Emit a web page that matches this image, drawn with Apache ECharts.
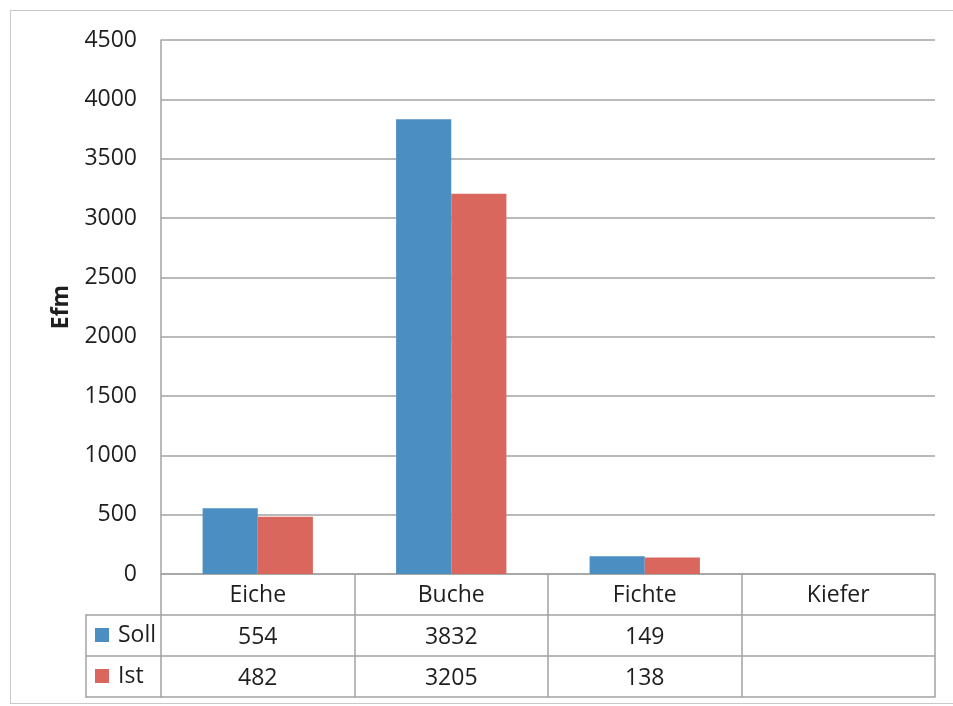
<!DOCTYPE html>
<html>
<head>
<meta charset="utf-8">
<script src="https://cdn.jsdelivr.net/npm/echarts@6/dist/echarts.min.js"></script>
<style>
  html, body { margin: 0; padding: 0; background: #fff; }
  #chart { position: absolute; left: 0; top: 0; width: 953px; height: 706px; }
  #frame { position: absolute; left: 10px; top: 10px; width: 960px; height: 692px;
           border: 1.5px solid #c9c9c9; pointer-events: none; }
</style>
</head>
<body>
<div id="chart"></div>
<div id="frame"></div>
<script>
// Baumarten und Einschlagsmengen (Efm)
const categories = ['Eiche', 'Buche', 'Fichte', 'Kiefer'];
const sollValues = [554, 3832, 149, null];
const istValues = [482, 3205, 138, null];
const seriesNames = ['Soll', 'Ist'];
const yTicks = { min: 0, max: 4500, interval: 500 };

const FONT = "'Open Sans', 'Noto Sans', sans-serif";
const FS = 23;
const TEXT = '#1e1e1e';
const LINE = '#a3a3a3';
const BLUE = '#4b8ec2';
const RED = '#d9675d';

const ROW = 41; // Zeilenhöhe der Datentabelle

const fmt = v => (v === null || v === undefined) ? '' : String(v);

// Leere Achse, die nur als Tabellenlinie dient
function tableLine(extra) {
  return Object.assign({
    type: 'category',
    data: categories,
    gridIndex: 0,
    position: 'bottom',
    axisLine: { show: true, onZero: false, lineStyle: { color: LINE, width: 1.5 } },
    axisTick: { show: false },
    axisLabel: { show: false },
    splitLine: { show: false }
  }, extra);
}

// Wertezeile der Tabelle auf eigener Kategorieachse
function valueRow(values, offset) {
  return tableLine({
    offset: offset,
    axisLabel: {
      show: true,
      interval: 0,
      margin: 11,
      fontFamily: FONT,
      fontSize: FS,
      color: TEXT,
      formatter: (v, i) => fmt(values[i])
    }
  });
}

// Linien der Legendenspalte links neben der Tabelle
function legendLine(extra) {
  return Object.assign({
    type: 'category',
    data: [''],
    gridIndex: 1,
    axisLine: { show: true, onZero: false, lineStyle: { color: LINE, width: 1.5 } },
    axisTick: { show: false },
    axisLabel: { show: false },
    splitLine: { show: false }
  }, extra);
}

const chart = echarts.init(document.getElementById('chart'));

chart.setOption({
  backgroundColor: '#fff',
  animation: false,
  color: [BLUE, RED],
  grid: [
    { left: 161, right: 18, top: 40, bottom: 132 },
    { left: 86, top: 615, width: 75, height: 2 * ROW }
  ],
  legend: {
    data: seriesNames,
    orient: 'vertical',
    left: 95,
    top: 622,
    padding: 0,
    icon: 'rect',
    itemWidth: 14,
    itemHeight: 14,
    itemGap: 15,
    textStyle: { fontFamily: FONT, fontSize: FS, color: TEXT, lineHeight: 26, padding: [0, 0, 0, 4] },
    selectedMode: false
  },
  xAxis: [
    {
      type: 'category',
      data: categories,
      gridIndex: 0,
      position: 'bottom',
      boundaryGap: true,
      axisLine: { show: true, lineStyle: { color: LINE, width: 1.5 } },
      axisTick: { show: true, length: 3 * ROW, interval: 0, lineStyle: { color: LINE, width: 1.5 } },
      axisLabel: { interval: 0, margin: 10, fontFamily: FONT, fontSize: FS, color: TEXT },
      splitLine: { show: false }
    },
    valueRow(sollValues, ROW),
    valueRow(istValues, 2 * ROW),
    tableLine({ offset: 3 * ROW }),
    legendLine({ position: 'top' }),
    legendLine({ position: 'bottom' }),
    legendLine({ position: 'bottom', offset: -ROW })
  ],
  yAxis: [
    {
      type: 'value',
      gridIndex: 0,
      min: yTicks.min,
      max: yTicks.max,
      interval: yTicks.interval,
      name: 'Efm',
      nameLocation: 'middle',
      nameRotate: 90,
      nameGap: 88,
      nameTextStyle: { fontFamily: FONT, fontSize: FS, fontWeight: 'bold', color: TEXT },
      axisLine: { show: true, lineStyle: { color: LINE, width: 1.5 } },
      axisTick: { show: false },
      axisLabel: { margin: 24, fontFamily: FONT, fontSize: FS, color: TEXT, formatter: v => String(v) },
      splitLine: { show: true, lineStyle: { color: LINE, width: 1.5 } }
    },
    {
      type: 'value',
      gridIndex: 1,
      min: 0,
      max: 1,
      position: 'left',
      axisLine: { show: true, onZero: false, lineStyle: { color: LINE, width: 1.5 } },
      axisTick: { show: false },
      axisLabel: { show: false },
      splitLine: { show: false }
    }
  ],
  series: [
    {
      name: seriesNames[0],
      type: 'bar',
      xAxisIndex: 0,
      yAxisIndex: 0,
      data: sollValues,
      barGap: '0%',
      barCategoryGap: '43%',
      itemStyle: { color: BLUE }
    },
    {
      name: seriesNames[1],
      type: 'bar',
      xAxisIndex: 0,
      yAxisIndex: 0,
      data: istValues,
      barGap: '0%',
      barCategoryGap: '43%',
      itemStyle: { color: RED }
    }
  ]
});
</script>
</body>
</html>
